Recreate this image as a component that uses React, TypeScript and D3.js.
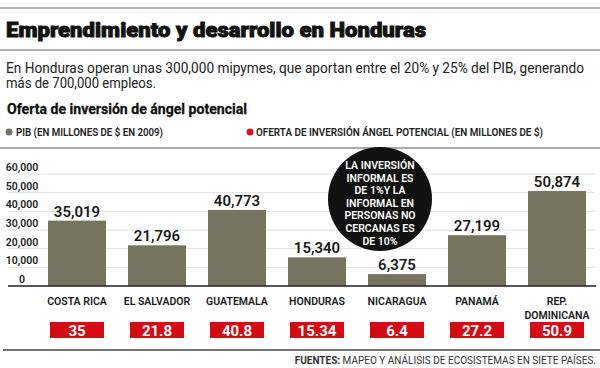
import React from "react";
import * as d3 from "d3";

const countries = ["COSTA RICA", "EL SALVADOR", "GUATEMALA", "HONDURAS", "NICARAGUA", "PANAMÁ", "REP. DOMINICANA"];
const pib = [35019, 21796, 40773, 15340, 6375, 27199, 50874];
const angel = [35, 21.8, 40.8, 15.34, 6.4, 27.2, 50.9];
const yTicks = [0, 10000, 20000, 30000, 40000, 50000, 60000];
const noteLines = ["LA INVERSIÓN", "INFORMAL ES", "DE 1%Y LA", "INFORMAL EN", "PERSONAS NO", "CERCANAS ES", "DE 10%"];

const FONT = "Roboto, 'Noto Sans', sans-serif";
const BAR = "#76745f";
const RED = "#d40b12";

export default function App() {
  const x = d3.scaleBand<string>().domain(countries).range([37, 597]).paddingInner(0.275).paddingOuter(0.1375);
  const y = d3.scaleLinear().domain([0, 60000]).range([286, 174]);
  const fmt = d3.format(",");
  const bw = x.bandwidth();

  return (
    <svg width={600} height={368} style={{ position: "absolute", left: 0, top: 0, display: "block", background: "#fff" }} fontFamily={FONT}>
      <rect width={600} height={368} fill="#fff" />
      <line x1={0} x2={600} y1={8} y2={8} stroke="#9a9a9a" strokeWidth={1.5} />
      <text x={6} y={37} fontSize={21} fontWeight={900} fill="#111" stroke="#111" strokeWidth={0.9} textLength={420} lengthAdjust="spacingAndGlyphs">
        Emprendimiento y desarrollo en Honduras
      </text>
      <line x1={0} x2={600} y1={50} y2={50} stroke="#9a9a9a" strokeWidth={1.5} />
      <text x={6} y={73} fontSize={14} fill="#222" textLength={578} lengthAdjust="spacingAndGlyphs">
        En Honduras operan unas 300,000 mipymes, que aportan entre el 20% y 25% del PIB, generando
      </text>
      <text x={6} y={88} fontSize={14} fill="#222" textLength={150} lengthAdjust="spacingAndGlyphs">
        más de 700,000 empleos.
      </text>
      <text x={7} y={114} fontSize={15} fontWeight={700} fill="#111" stroke="#111" strokeWidth={0.3} textLength={240} lengthAdjust="spacingAndGlyphs">
        Oferta de inversión de ángel potencial
      </text>

      <circle cx={9} cy={132} r={3.5} fill={BAR} />
      <text x={16} y={136} fontSize={10} fontWeight={600} fill="#222" textLength={147} lengthAdjust="spacingAndGlyphs">
        PIB (EN MILLONES DE $ EN 2009)
      </text>
      <circle cx={250} cy={132} r={3.5} fill="#e0101a" />
      <text x={256} y={136} fontSize={10} fontWeight={600} fill="#222" textLength={287} lengthAdjust="spacingAndGlyphs">
        OFERTA DE INVERSIÓN ÁNGEL POTENCIAL (EN MILLONES DE $)
      </text>
      <line x1={0} x2={600} y1={148} y2={148} stroke="#aaa" strokeWidth={2} />

      {yTicks.map((t) => (
        <g key={t}>
          {t > 0 && <line x1={8} x2={595} y1={y(t)} y2={y(t)} stroke="#e0e0e0" strokeWidth={1} />}
          <text x={22} y={y(t) - 3} fontSize={10.5} fontWeight={600} fill="#222" textAnchor="middle">
            {fmt(t)}
          </text>
        </g>
      ))}

      {countries.map((c, i) => {
        const x0 = x(c) as number;
        const cx = x0 + bw / 2;
        const parts = c === "REP. DOMINICANA" ? ["REP.", "DOMINICANA"] : [c];
        return (
          <g key={c}>
            <rect x={x0} y={y(pib[i])} width={bw} height={y(0) - y(pib[i])} fill={BAR} />
            <text x={cx} y={y(pib[i]) - 4} fontSize={15} fontWeight={600} fill="#1a1a1a" textAnchor="middle">
              {fmt(pib[i])}
            </text>
            {parts.map((p, j) => (
              <text key={p} x={cx} y={305 + j * 14} fontSize={10.5} fontWeight={600} fill="#1a1a1a" textAnchor="middle">
                {p}
              </text>
            ))}
            <rect x={cx - 27} y={322} width={54} height={16} fill={RED} />
            <text x={cx} y={336} fontSize={15} fontWeight={700} fill="#fff" textAnchor="middle">
              {String(angel[i])}
            </text>
          </g>
        );
      })}

      <line x1={8} x2={596} y1={286} y2={286} stroke="#222" strokeWidth={1.5} />

      <circle cx={380} cy={199} r={52} fill="#111" />
      {noteLines.map((l, i) => (
        <text key={i} x={380} y={169 + i * 12.6} fontSize={10.5} fontWeight={600} fill="#fff" textAnchor="middle">
          {l}
        </text>
      ))}

      <line x1={3} x2={600} y1={350} y2={350} stroke="#444" strokeWidth={1.5} />
      <text x={596} y={364} fontSize={10} fill="#333" textAnchor="end">
        <tspan fontWeight={700}>FUENTES:</tspan>
        <tspan> MAPEO Y ANÁLISIS DE ECOSISTEMAS EN SIETE PAÍSES.</tspan>
      </text>
    </svg>
  );
}
